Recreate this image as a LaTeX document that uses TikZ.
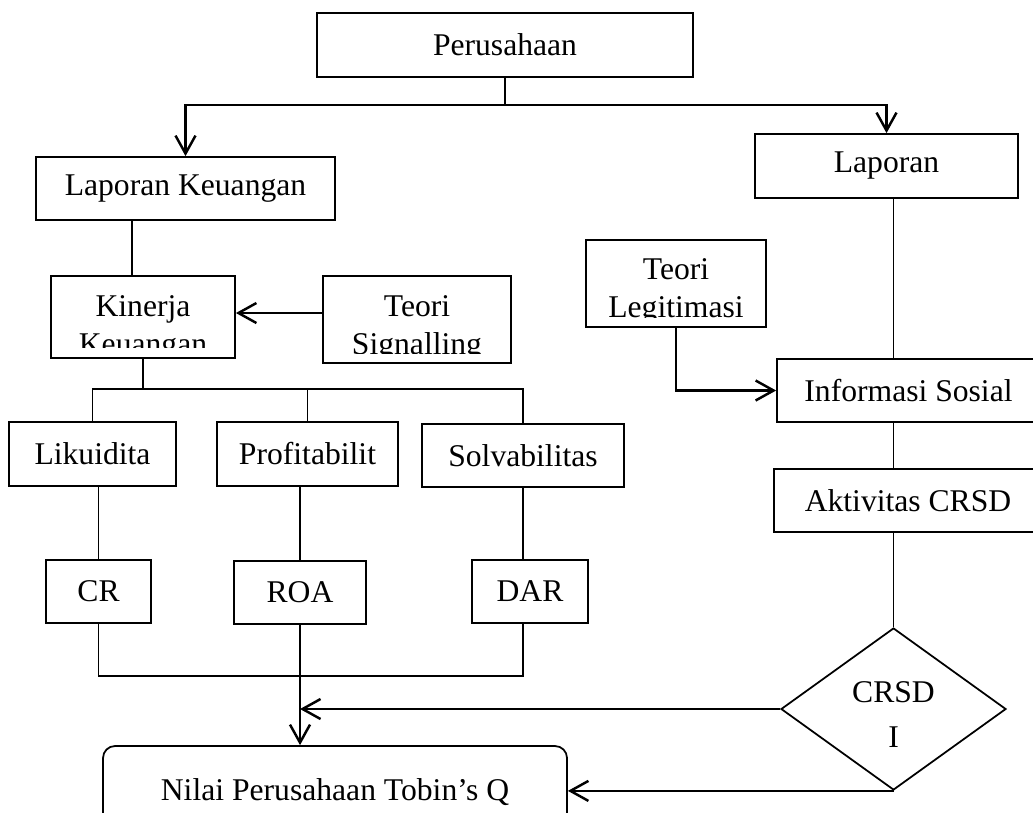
\documentclass[tikz,border=0pt]{standalone}
\usepackage{fontspec}
\setmainfont{Liberation Serif}
\usetikzlibrary{arrows.meta,shapes.geometric}
\newcommand{\px}{0.02cm}
\begin{document}
\begin{tikzpicture}[x=\px,y=-\px,
    box/.style={draw,line width=1pt,inner sep=0pt,align=center,font=\fontsize{18}{21.6}\selectfont},
    link/.style={line width=1pt},
    arr/.style={line width=1.4pt,-{Straight Barb[length=3.6mm,width=4mm]}}]
  \clip (0,0) rectangle (1033,812);
  % left column
  \node[box,minimum width=376*\px,minimum height=64*\px] (perusahaan) at (505,45) {Perusahaan};
  \node[box,minimum width=299*\px,minimum height=63*\px] (lapkeu) at (185.5,188.5) {Laporan Keuangan};
  \node[box,minimum width=184*\px,minimum height=82*\px] (kinerja) at (143,317) {};
  \node[box,minimum width=188*\px,minimum height=87*\px] (signalling) at (417,319.5) {};
  \begin{scope}
    \clip (51,276) rectangle (235,347);
    \node[box,draw=none] (kinerjatxt) at (143,328) {Kinerja\\Keuangan};
  \end{scope}
  \begin{scope}
    \clip (323,276) rectangle (511,353);
    \node[box,draw=none] (signallingtxt) at (417,328) {Teori\\Signalling};
  \end{scope}
  \node[box,minimum width=167*\px,minimum height=64*\px] (likuid) at (92.5,454) {Likuidita};
  \node[box,minimum width=181*\px,minimum height=64*\px] (profit) at (307.5,454) {Profitabilit};
  \node[box,minimum width=202*\px,minimum height=63*\px] (solva) at (523,455.5) {Solvabilitas};
  \node[box,minimum width=105*\px,minimum height=63*\px] (cr) at (98.5,591.5) {CR};
  \node[box,minimum width=132*\px,minimum height=63*\px] (roa) at (300,592.5) {ROA};
  \node[box,minimum width=116*\px,minimum height=63*\px] (dar) at (530,591.5) {DAR};
  \node[box,rounded corners=0.24cm,minimum width=464*\px,minimum height=92*\px] (nilai) at (335,792) {Nilai Perusahaan Tobin’s Q};
  % right column
  \node[box,minimum width=263*\px,minimum height=64*\px] (laporan) at (886.5,166) {Laporan};
  \node[box,minimum width=180*\px,minimum height=87*\px] (legitimasi) at (676,283.5) {};
  \begin{scope}
    \clip (586,240) rectangle (766,317);
    \node[box,draw=none] (legitimasitxt) at (676,291) {Teori\\Legitimasi};
  \end{scope}
  \node[box,minimum width=263*\px,minimum height=63*\px] (informasi) at (908.5,390.5) {Informasi Sosial};
  \node[box,minimum width=268*\px,minimum height=63*\px] (aktivitas) at (908,500.5) {Aktivitas CRSD};
  \node[box,diamond,aspect=1.39,minimum width=225*\px,minimum height=162*\px] (crsdi) at (893.5,709) {};
  \node[box,draw=none] (crsditxt) at (893.5,715) {CRSD\\[4pt]I};
  % helper points
  \coordinate (split) at (505,105);
  \coordinate (kinerjatop) at (132,276);
  \coordinate (bus) at (143,389);
  \coordinate (join) at (300,676);
  % connectors
  \draw[arr] (perusahaan.south) -- (split) -| (lapkeu.north);
  \draw[arr] (split) -| (laporan.north);
  \draw[link] (kinerjatop) -- (kinerjatop |- lapkeu.south);
  \draw[arr] ([yshift=0.13cm]signalling.west) -- ([yshift=0.13cm]kinerja.east |- signalling.west);
  \draw[link] (kinerja.south) -- (bus);
  \draw[link] (likuid.north) |- (solva.north |- bus) -- (solva.north);
  \draw[link] (profit.north) -- (profit.north |- bus);
  \draw[link] (likuid.south -| cr.north) -- (cr.north);
  \draw[link] (profit.south -| roa.north) -- (roa.north);
  \draw[link] (solva.south) -- (solva.south |- dar.north);
  \draw[link] (cr.south) |- (join);
  \draw[link] (solva.south |- dar.south) |- (join);
  \draw[arr] (roa.south) -- (roa.south |- nilai.north);
  \draw[link] (laporan.south -| crsdi.north) -- (informasi.north -| crsdi.north);
  \draw[link] (informasi.south -| crsdi.north) -- (aktivitas.north -| crsdi.north);
  \draw[link] (aktivitas.south -| crsdi.north) -- (crsdi.north);
  \draw[arr] (legitimasi.south) |- (informasi.west);
  \draw[arr] (crsdi.west) -- (roa.south |- crsdi.west);
  \draw[arr] (crsdi.south) -- (nilai.east |- crsdi.south);
\end{tikzpicture}
\end{document}
